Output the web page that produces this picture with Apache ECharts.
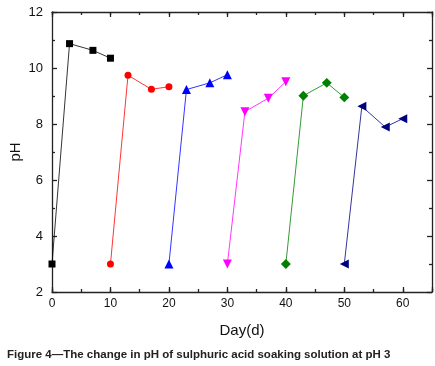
<!DOCTYPE html>
<html>
<head>
<meta charset="utf-8">
<script src="https://cdn.jsdelivr.net/npm/echarts@6/dist/echarts.min.js"></script>
<style>
  html, body { margin: 0; padding: 0; background: #fff; }
  #main { width: 435px; height: 366px; }
</style>
</head>
<body>
<div id="main"></div>
<script>
// one soaking cycle per series: [day, pH]
const cycle1 = [[0, 3], [3, 10.87], [7, 10.63], [10, 10.35]];
const cycle2 = [[10, 3], [13, 9.74], [17, 9.24], [20, 9.33]];
const cycle3 = [[20, 3], [23, 9.23], [27, 9.47], [30, 9.76]];
const cycle4 = [[30, 3], [33, 8.44], [37, 8.92], [40, 9.51]];
const cycle5 = [[40, 3], [43, 9.01], [47, 9.47], [50, 8.95]];
const cycle6 = [[50, 3], [53, 8.63], [57, 7.89], [60, 8.19]];

const colors = ['#000000', '#ff0000', '#0000ff', '#ff00ff', '#008000', '#000080'];
const symbols = ['rect', 'circle', 'triangle', 'triangle', 'rect', 'triangle'];
const rotates = [0, 0, 0, 180, 45, 90];
const sizes = [7, 7, 9, 9, 7, 9];

const font = 'Liberation Sans, Arial, sans-serif';
let chart = echarts.init(document.getElementById('main'));

// 轴线样式
const lineStyle = { color: '#222', width: 1.3 };

function xAxisOf(pos, interval, tickLen, showLabel, showLine) {
  return {
    type: 'value', position: pos, min: 0, max: 65, interval: interval,
    axisLine: { show: showLine, onZero: false, lineStyle: lineStyle },
    axisTick: { show: true, inside: true, length: tickLen, lineStyle: lineStyle },
    axisLabel: {
      show: showLabel, color: '#111', fontSize: 12, fontFamily: font, margin: 6,
      formatter: v => (v % 10 === 0 ? v : '')
    },
    splitLine: { show: false }
  };
}

function yAxisOf(pos, showLabel) {
  return {
    type: 'value', position: pos, min: 2, max: 12, interval: 2,
    axisLine: { show: true, onZero: false, lineStyle: lineStyle },
    axisTick: { show: true, inside: true, length: 5, lineStyle: lineStyle },
    minorTick: { show: true, splitNumber: 2, length: 3, lineStyle: lineStyle },
    axisLabel: { show: showLabel, color: '#111', fontSize: 13, fontFamily: font, margin: 9 },
    splitLine: { show: false }
  };
}

let xMain = xAxisOf('bottom', 10, 5, true, true);
xMain.name = 'Day(d)';
xMain.nameLocation = 'middle';
xMain.nameGap = 31;
xMain.nameTextStyle = { fontSize: 15, color: '#111', fontFamily: font };

let yMain = yAxisOf('left', true);
yMain.name = 'pH';
yMain.nameLocation = 'middle';
yMain.nameGap = 29;
yMain.nameMoveOverlap = false;
yMain.nameTextStyle = { fontSize: 15, color: '#111', fontFamily: font };

const allData = [cycle1, cycle2, cycle3, cycle4, cycle5, cycle6];

let option = {
  animation: false,
  grid: { left: 52, right: 3, top: 12, bottom: 74, outerBoundsMode: 'none' },
  xAxis: [
    xMain,
    xAxisOf('bottom', 5, 3, false, false),
    xAxisOf('top', 10, 5, false, true),
    xAxisOf('top', 5, 3, false, false)
  ],
  yAxis: [yMain, yAxisOf('right', false)],
  graphic: [{
    type: 'text', left: 7, top: 349,
    style: {
      text: 'Figure 4\u2014The change in pH of sulphuric acid soaking solution at pH 3',
      fontSize: 11.5, fontWeight: 'bold', fill: '#222', fontFamily: font
    }
  }],
  series: allData.map((d, i) => ({
    type: 'line',
    data: d,
    xAxisIndex: 0,
    yAxisIndex: 0,
    clip: false,
    symbol: symbols[i],
    symbolRotate: rotates[i],
    symbolSize: sizes[i],
    showAllSymbol: true,
    itemStyle: { color: colors[i] },
    lineStyle: { color: colors[i], width: 0.8 }
  }))
};

chart.setOption(option);
</script>
</body>
</html>
